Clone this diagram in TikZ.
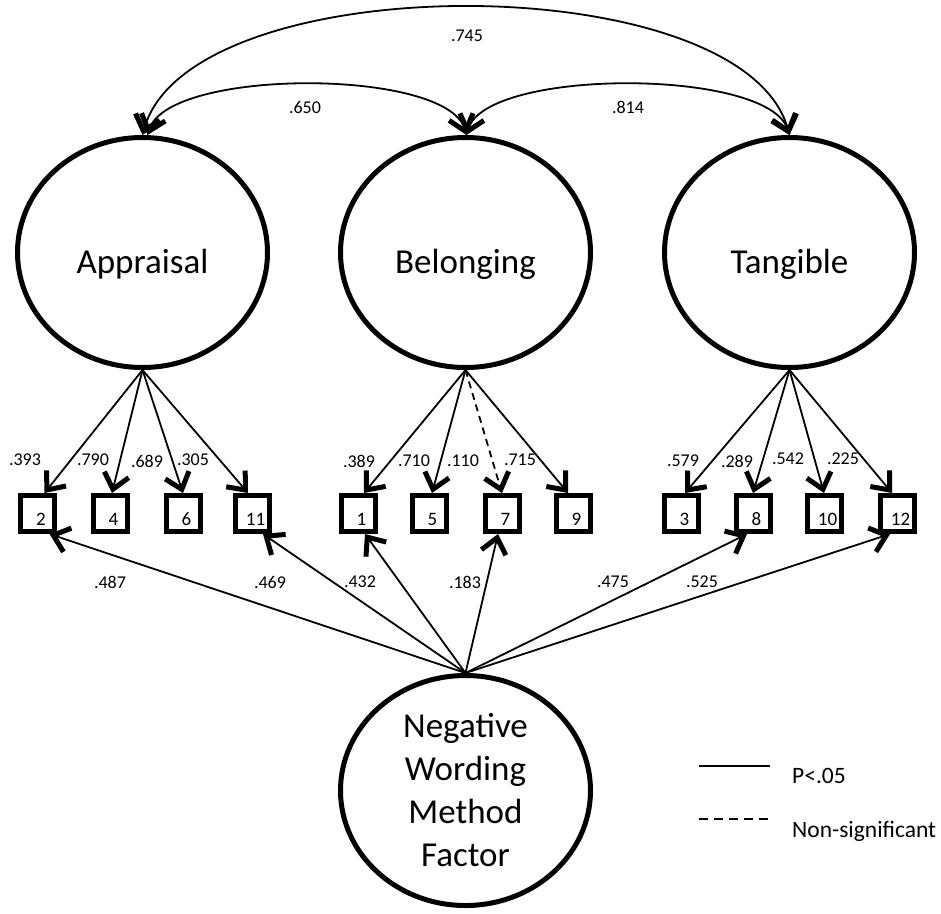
\documentclass[tikz,border=0pt]{standalone}
\usepackage{fontspec}
\setmainfont{Carlito}
\usetikzlibrary{arrows.meta,shapes.geometric}
\begin{document}
\begin{tikzpicture}[x=1pt,y=-1pt,
  >={Straight Barb[length=15pt,width=25pt,line width=5pt]},
  latent/.style={ellipse,draw,line width=5pt,minimum width=250pt,minimum height=230pt,inner sep=0pt,
    font=\fontsize{35}{43}\selectfont},
  lattext/.style={text height=41.6pt,text depth=0pt},
  ind/.style={rectangle,draw,line width=5pt,minimum width=34pt,minimum height=36pt,inner sep=0pt,
    font=\fontsize{19}{22}\selectfont,text height=24pt,text depth=0pt,
    execute at begin node=\hspace*{7pt}},
  load/.style={->,line width=1.8pt},
  nsload/.style={->,line width=1.8pt,dash pattern=on 7pt off 5pt},
  cov/.style={<->,line width=1.8pt},
  num/.style={inner sep=0pt,font=\fontsize{18}{21}\selectfont},
  legtext/.style={inner sep=0pt,anchor=base west,font=\fontsize{23.5}{28}\selectfont}]
\useasboundingbox (0,0) rectangle (941,913);

% latent factors
\node[latent,lattext] (app) at (142.5,252.5) {Appraisal};
\node[latent,lattext] (bel) at (465.5,252.5) {Belonging};
\node[latent,lattext] (tan) at (789.5,252.5) {Tangible};
\node[latent,align=center] (neg) at (465.5,790.5) {Negative\\Wording\\Method\\Factor};

% indicators
\node[ind] (b2) at (37.5,513.5) {2};
\node[ind] (b4) at (110,513.5) {4};
\node[ind] (b6) at (183,513.5) {6};
\node[ind] (b11) at (252,513.5) {11};
\node[ind] (b1) at (358,513.5) {1};
\node[ind] (b5) at (429,513.5) {5};
\node[ind] (b7) at (502,513.5) {7};
\node[ind] (b9) at (573,513.5) {9};
\node[ind] (b3) at (681,513.5) {3};
\node[ind] (b8) at (753,513.5) {8};
\node[ind] (b10) at (824,513.5) {10};
\node[ind] (b12) at (897,513.5) {12};

% covariances
\draw[cov] (app.north) .. controls +(47,-170) and +(-47,-170) .. (tan.north);
\draw[cov] ([xshift=5pt]app.north) .. controls +(22,-67) and +(-20,-67) .. ([xshift=1pt]bel.north);
\draw[cov] ([xshift=1pt]bel.north) .. controls +(20,-67) and +(-22,-67) .. (tan.north);
\node[num] (c745) at (467,36) {.745};
\node[num] (c650) at (305,107) {.650};
\node[num] (c814) at (628,107) {.814};

% loadings
\draw[load] (app.south) -- ([xshift=7pt]b2.north);
\draw[load] (app.south) -- ([xshift=2pt]b4.north);
\draw[load] (app.south) -- (b6.north);
\draw[load] (app.south) -- ([xshift=-4pt]b11.north);
\draw[load] (bel.south) -- ([xshift=6pt]b1.north);
\draw[load] (bel.south) -- ([xshift=3pt]b5.north);
\draw[nsload] (bel.south) -- (b7.north);
\draw[load] (bel.south) -- ([xshift=-5pt]b9.north);
\draw[load] (tan.south) -- ([xshift=4pt]b3.north);
\draw[load] (tan.south) -- (b8.north);
\draw[load] (tan.south) -- (b10.north);
\draw[load] (tan.south) -- ([xshift=-5pt]b12.north);

\node[num] (l393) at (25,460) {.393};
\node[num] (l790) at (93,460) {.790};
\node[num] (l689) at (147,461) {.689};
\node[num] (l305) at (193,460) {.305};
\node[num] (l389) at (359,461) {.389};
\node[num] (l710) at (414,461) {.710};
\node[num] (l110) at (463,461) {.110};
\node[num] (l715) at (520,460) {.715};
\node[num] (l579) at (683,461) {.579};
\node[num] (l289) at (737,461) {.289};
\node[num] (l542) at (788,459) {.542};
\node[num] (l225) at (843,459) {.225};

% method factor
\draw[load] (neg.north) -- ([xshift=12pt]b2.south);
\draw[load] (neg.north) -- ([xshift=11pt]b11.south);
\draw[load] (neg.north) -- ([xshift=7pt]b1.south);
\draw[load] (neg.north) -- ([xshift=-4pt]b7.south);
\draw[load] (neg.north) -- ([xshift=-6pt]b8.south);
\draw[load] (neg.north) -- ([xshift=-7pt]b12.south);

\node[num] (m487) at (110,582) {.487};
\node[num] (m469) at (270,582) {.469};
\node[num] (m432) at (360,582) {.432};
\node[num] (m183) at (465,582) {.183};
\node[num] (m475) at (613,582) {.475};
\node[num] (m525) at (702,582) {.525};

% legend
\coordinate (ls1) at (699,766);
\coordinate (ls2) at (770,766);
\coordinate (ld1) at (699,819);
\coordinate (ld2) at (770,819);
\draw[line width=1.8pt] (ls1) -- (ls2);
\draw[line width=1.8pt,dash pattern=on 9pt off 6pt] (ld1) -- (ld2);
\node[legtext] (lp) at (792,783) {P<.05};
\node[legtext] (ln) at (792,837) {Non-significant};
\end{tikzpicture}
\end{document}
